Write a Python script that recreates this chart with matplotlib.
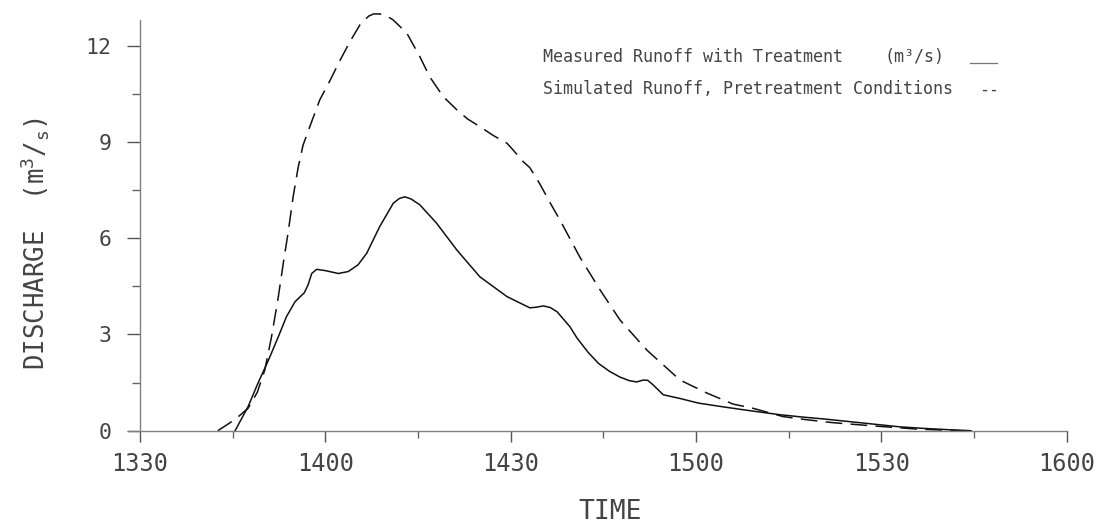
import matplotlib
matplotlib.use("Agg")
import matplotlib.pyplot as plt
from matplotlib.lines import Line2D

# ---- data (minutes after 13:30) ----
measured_t = [15.4, 17.5, 19.1, 20.8, 22.4, 23.7, 25.1, 26.6, 27.2, 27.8, 28.6, 30.0,
              32.1, 33.7, 35.3, 36.7, 38.8, 41.0, 42.0, 42.9, 43.9, 45.3, 48.0, 51.3, 55.0, 59.4,
              63.1, 64.2, 65.3, 66.4, 67.5, 69.6, 70.7, 72.5, 74.2, 76.0, 77.7, 79.2, 80.4, 81.5,
              82.2, 83.1, 84.7, 87.5, 90.4, 94.5, 98.5, 103.5, 107.0, 111.0, 115.0,
              119.0, 123.0, 127.0, 131.0, 134.5]
measured_q = [0.0, 0.75, 1.48, 2.2, 2.93, 3.55, 4.02, 4.3, 4.54, 4.9, 5.03, 4.99,
              4.9, 4.96, 5.17, 5.53, 6.36, 7.09, 7.24, 7.29, 7.22, 7.04, 6.47, 5.63, 4.8, 4.18,
              3.83, 3.85, 3.89, 3.84, 3.71, 3.24, 2.9, 2.45, 2.1, 1.85, 1.67, 1.56, 1.52, 1.58,
              1.57, 1.42, 1.12, 1.0, 0.86, 0.74, 0.63, 0.5, 0.43, 0.36, 0.28,
              0.2, 0.12, 0.07, 0.03, 0.0]

simulated_t = [12.6, 14.6, 16.0, 17.5, 19.0, 20.2, 21.3, 22.4, 23.2, 24.0, 24.8, 25.6,
               26.4, 27.5, 29.1, 30.8, 32.4, 34.0, 35.6, 37.0, 37.8, 38.8, 40.0, 41.0,
               43.2, 45.3, 46.9, 49.1, 51.3, 53.0, 55.0, 57.2, 59.4, 60.4, 62.0, 63.1,
               64.7, 66.4, 68.0, 71.2, 74.5, 77.7, 82.0, 87.4, 91.8, 96.0, 99.2, 104.1,
               108.0, 112.2, 118.6, 125.8, 132.7]
simulated_q = [0.0, 0.25, 0.45, 0.7, 1.2, 1.89, 2.93, 4.18, 5.22, 6.2, 7.3, 8.2,
               8.9, 9.48, 10.31, 10.93, 11.55, 12.13, 12.65, 12.92, 12.99, 12.99, 12.92, 12.8,
               12.39, 11.66, 11.03, 10.41, 10.0, 9.72, 9.48, 9.2, 8.96, 8.75, 8.39, 8.2,
               7.7, 7.1, 6.56, 5.41, 4.38, 3.45, 2.52, 1.58, 1.17, 0.83, 0.7, 0.44,
               0.34, 0.25, 0.15, 0.05, 0.0]

x_ticks = [0, 30, 60, 90, 120, 150]
x_tick_labels = ["1330", "1400", "1430", "1500", "1530", "1600"]
x_minor = [15, 45, 75, 105, 135]
y_ticks = [0, 3, 6, 9, 12]
y_minor = [1.5, 4.5, 7.5, 10.5]

plt.rcParams["font.family"] = ["DejaVu Sans Mono", "DejaVu Sans"]
plt.rcParams["mathtext.fontset"] = "custom"
plt.rcParams["mathtext.rm"] = "DejaVu Sans Mono"
plt.rcParams["mathtext.default"] = "rm"
plt.rcParams["lines.scale_dashes"] = False

TXT = "#444444"

W, H = 1107, 525
fig = plt.figure(figsize=(W / 100, H / 100), dpi=100)
ax_left = 127.6 / W
ax_bottom = 1 - 430.7 / H
ax_w = (1066.7 - 127.6) / W
ax_h = (430.7 - 4.0) / H
ax = fig.add_axes([ax_left, ax_bottom, ax_w, ax_h])
ax.set_xlim(-2, 150)
ax.set_ylim(0, 13.3)

ax.plot(measured_t, measured_q, color="#111111", lw=1.1, solid_joinstyle="round", clip_on=False)
ax.plot(simulated_t, simulated_q, color="#111111", lw=1.1, dashes=(12.0, 6.0), clip_on=False)

for s in ["top", "right"]:
    ax.spines[s].set_visible(False)
ax.spines["left"].set_position(("data", 0))
ax.spines["left"].set_bounds(0, 12.8)
ax.spines["bottom"].set_bounds(-2, 150)
for s in ["left", "bottom"]:
    ax.spines[s].set_color("#808080")
    ax.spines[s].set_linewidth(1.0)

ax.set_xticks(x_ticks)
ax.set_xticklabels(x_tick_labels)
ax.set_xticks(x_minor, minor=True)
ax.set_yticks(y_ticks)
ax.set_yticklabels([str(v) for v in y_ticks])
ax.set_yticks(y_minor, minor=True)

ax.tick_params(axis="x", which="major", direction="out", length=8, width=1.0,
               color="#555555", labelsize=17, pad=7, labelcolor=TXT)
ax.tick_params(axis="x", which="minor", direction="out", length=5, width=1.0, color="#666666")
ax.tick_params(axis="y", which="major", direction="out", length=9.5, width=1.0,
               color="#555555", labelsize=15.5, pad=11, labelcolor=TXT)
ax.tick_params(axis="y", which="minor", direction="out", length=6, width=1.0, color="#666666")

fig.text(35 / W, 1 - 243.5 / H, "DISCHARGE  (m$^3$/$_s$)", rotation=90,
         ha="center", va="center", fontsize=18.5, color=TXT)
fig.text(610 / W, 1 - 511.7 / H, "TIME", ha="center", va="center",
         fontsize=19, color=TXT)

fig.text(542.7 / W, 1 - 56.5 / H, "Measured Runoff with Treatment", ha="left",
         va="center", fontsize=12, color=TXT)
fig.text(885 / W, 1 - 56.5 / H, "(m\u00b3/s)", ha="left", va="center",
         fontsize=12, color=TXT)
fig.add_artist(Line2D([970 / W, 997 / W], [1 - 62.5 / H, 1 - 62.5 / H],
                      transform=fig.transFigure, color="#777777", lw=0.9))
fig.text(542.7 / W, 1 - 89.5 / H, "Simulated Runoff, Pretreatment Conditions", ha="left",
         va="center", fontsize=12, color=TXT)
fig.text(979 / W, 1 - 89.5 / H, "--", ha="left", va="center",
         fontsize=12, color=TXT)

fig.savefig("out.png", dpi=100)
